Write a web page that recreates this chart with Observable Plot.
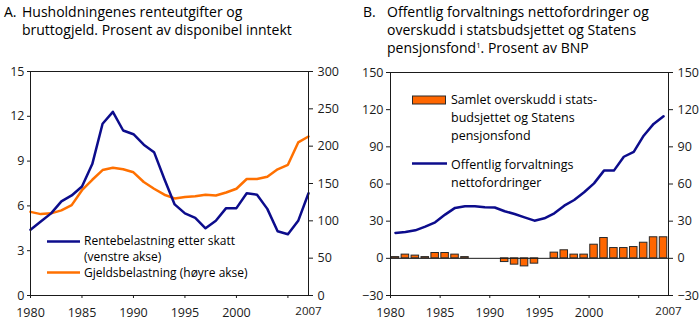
<!DOCTYPE html>
<html><head><meta charset="utf-8">
<script src="https://cdn.jsdelivr.net/npm/d3@7"></script>
<script src="https://cdn.jsdelivr.net/npm/@observablehq/plot@0.6"></script>
<style>
body{margin:0;background:#fff;}
#wrap{position:relative;width:700px;height:322px;font-family:"Open Sans",sans-serif;color:#000;overflow:hidden;background:#fff}
.t{position:absolute;font-size:14px;white-space:nowrap;line-height:18px}
.lg{position:absolute;font-size:12.5px;white-space:nowrap;line-height:18px}
.lga{position:absolute;font-size:12px;white-space:nowrap;line-height:16px}
.sw{position:absolute}
.pl{position:absolute;top:0}
sup{font-size:0.55em;vertical-align:0.6em;line-height:0}
</style></head><body>
<div id="wrap">
  <div class="t" style="left:4px;top:3px">A.</div>
  <div class="t" style="left:22px;top:3px">Husholdningenes renteutgifter og<br>bruttogjeld. Prosent av disponibel inntekt</div>
  <div class="t" style="left:363px;top:3px">B.</div>
  <div class="t" style="left:387px;top:3px">Offentlig forvaltnings nettofordringer og<br>overskudd i statsbudsjettet og Statens<br>pensjonsfond<sup>1</sup>. Prosent av BNP</div>
  <div id="pa" class="pl" style="left:0"></div>
  <div id="pb" class="pl" style="left:350px"></div>
  <svg class="sw" style="left:0;top:0" width="700" height="322">
    <line x1="47" x2="80" y1="241.5" y2="241.5" stroke="#0c0c8c" stroke-width="2.5"/>
    <line x1="47" x2="80" y1="272.5" y2="272.5" stroke="#ff7000" stroke-width="2.5"/>
    <rect x="412.5" y="96" width="33" height="8" fill="#ff6600" stroke="#2a2a2a" stroke-width="1"/>
    <line x1="412" x2="447" y1="163.5" y2="163.5" stroke="#0c0c8c" stroke-width="2.5"/>
  </svg>
  <div class="lga" style="left:84px;top:233px">Rentebelastning etter skatt<br>(venstre akse)</div>
  <div class="lga" style="left:84px;top:265px">Gjeldsbelastning (høyre akse)</div>
  <div class="lg" style="left:451px;top:91px">Samlet overskudd i stats-<br>budsjettet og Statens<br>pensjonsfond</div>
  <div class="lg" style="left:451px;top:156px">Offentlig forvaltnings<br>nettofordringer</div>
</div>
<script>
const years = [1980,1981,1982,1983,1984,1985,1986,1987,1988,1989,1990,1991,1992,1993,1994,1995,1996,1997,1998,1999,2000,2001,2002,2003,2004,2005,2006,2007];
// Panel A
const renteA = [4.4,4.95,5.5,6.3,6.7,7.3,8.8,11.5,12.3,11.05,10.8,10.1,9.6,7.8,6.1,5.5,5.2,4.5,5.0,5.85,5.85,6.85,6.75,5.8,4.3,4.1,5.0,6.85];
const gjeldA = [112,109,110,114,121,141,155,168,171,169,165,152,143,135,130,132,133,135,134,138,143,156,156,159,169,175,205,213];
// Panel B
const nettoB = [20.5,21.3,22.6,25.6,29.1,35.3,40.7,42,42,41.2,41,38,35.8,33.1,30.4,32.3,36.3,42.5,47.1,53.3,60.5,70.8,70.8,82,86,99,108.5,114.6];
const overskuddB = [1,3,2.2,1,4.3,4.3,3,1,0,0,0,-3,-5.1,-6.5,-4.3,0,4.6,6.5,3,3,11,16.4,8.3,8.3,9.1,12.6,17,17];
const leftTicksA = [0,3,6,9,12,15];
const rightTicksA = [0,50,100,150,200,250,300];
const yTicksB = [-30,0,30,60,90,120,150];
const xTicks = [1980,1985,1990,1995,2000,2005];
const lastYearLabel = ["2007"];

const dataA = years.map((y,i)=>({year:y, rente:renteA[i], gjeld:gjeldA[i]}));
const dataB = years.map((y,i)=>({year:y, netto:nettoB[i], overskudd:overskuddB[i]}));
const FONT = '"Open Sans", sans-serif';
const ink = "#1a1a1a";
const ratio = 20; // right axis / left axis

const plotA = Plot.plot({
  width:350, height:322, marginLeft:30, marginRight:42, marginTop:71, marginBottom:27,
  style:{fontFamily:FONT, fontSize:"12.5px", background:"transparent", color:ink, overflow:"visible"},
  x:{domain:[1980,2007]},
  y:{domain:[0,15]},
  marks:[
    Plot.lineY(dataA,{x:"year", y:d=>d.gjeld/ratio, stroke:"#ff7000", strokeWidth:2.5}),
    Plot.lineY(dataA,{x:"year", y:"rente", stroke:"#0c0c8c", strokeWidth:2.5}),
    Plot.frame({stroke:ink}),
    Plot.axisY({anchor:"left", ticks:leftTicksA, tickSize:3, tickPadding:3, label:null}),
    Plot.axisY({anchor:"right", ticks:rightTicksA.map(v=>v/ratio), tickFormat:d=>String(Math.round(d*ratio)), tickSize:4, tickPadding:5, label:null}),
    Plot.axisX({ticks:xTicks, tickFormat:d=>d===2005?"":String(d), tickSize:3, tickPadding:10, label:null}),
    Plot.axisX({ticks:[2007], tickFormat:()=>lastYearLabel[0], tickSize:0, tickPadding:11, label:null, fontSize:"11.5px"})
  ]
});
document.getElementById("pa").appendChild(plotA);

const plotB = Plot.plot({
  width:350, height:322, marginLeft:40, marginRight:32, marginTop:72, marginBottom:27,
  style:{fontFamily:FONT, fontSize:"12.5px", background:"transparent", color:ink, overflow:"visible"},
  x:{domain:[1980,2008]},
  y:{domain:[-30,150]},
  marks:[
    Plot.rect(dataB.filter(d=>d.overskudd!==0),{x1:"year", x2:d=>d.year+1, y1:d=>0, y2:"overskudd", insetLeft:1.2, insetRight:1.2, fill:"#ff6600", stroke:"#2a2a2a", strokeWidth:1}),
    Plot.ruleY([0],{stroke:ink}),
    Plot.lineY(dataB,{x:d=>d.year+0.5, y:"netto", stroke:"#0c0c8c", strokeWidth:2.5}),
    Plot.frame({stroke:ink}),
    Plot.axisY({anchor:"left", ticks:yTicksB, tickSize:4, tickPadding:3, label:null}),
    Plot.axisY({anchor:"right", ticks:yTicksB, tickSize:4, tickPadding:5, label:null}),
    Plot.axisX({ticks:xTicks, tickFormat:d=>d===2005?"":String(d), tickSize:3, tickPadding:10, label:null}),
    Plot.axisX({ticks:[2008], tickFormat:()=>lastYearLabel[0], tickSize:0, tickPadding:11, label:null, fontSize:"11.5px"})
  ]
});
document.getElementById("pb").appendChild(plotB);
</script>
</body></html>
